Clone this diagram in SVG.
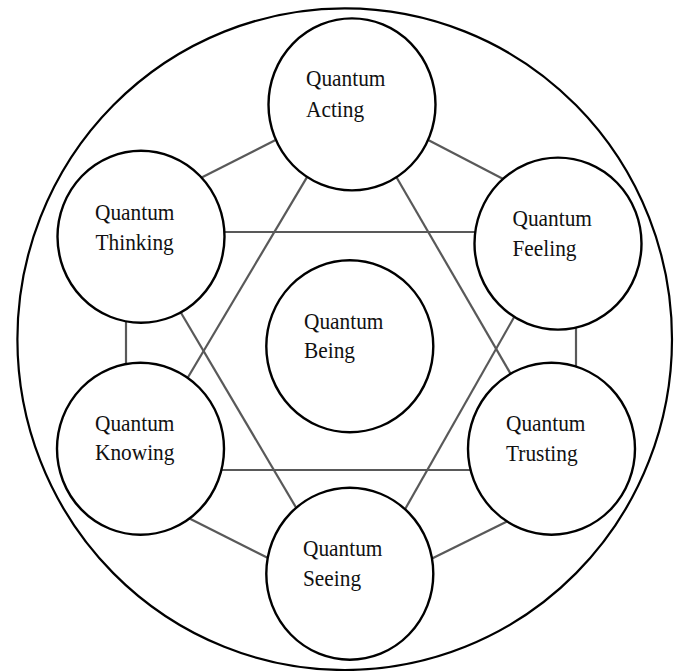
<svg xmlns="http://www.w3.org/2000/svg" width="684" height="671" viewBox="0 0 684 671">
<style>
.node{fill:#fff;stroke:#000;stroke-width:2.4}
.edge{stroke:#595959;stroke-width:2.2;fill:none}
.lbl{font-family:"Liberation Serif","Times New Roman",serif;font-size:24px;fill:#111}
</style>
<rect width="684" height="671" fill="#fff"/>
<ellipse id="outer" cx="344.7" cy="339.2" rx="327.3" ry="330.8" fill="none" stroke="#000" stroke-width="2.2"/>
<g id="connectors">
<line class="edge" x1="280" y1="137.7" x2="199.2" y2="178.8"/>
<line class="edge" x1="425.3" y1="138.6" x2="506.1" y2="180.5"/>
<line class="edge" x1="126" y1="316" x2="126" y2="370"/>
<line class="edge" x1="576" y1="322" x2="576" y2="372"/>
<line class="edge" x1="187.5" y1="517.4" x2="271.5" y2="559.8"/>
<line class="edge" x1="510.5" y1="519.8" x2="428.5" y2="560.2"/>
<line class="edge" x1="215" y1="470" x2="476" y2="470"/>
<line class="edge" x1="219" y1="232" x2="480" y2="232"/>
<line class="edge" x1="308.5" y1="174.6" x2="186.2" y2="380.2"/>
<line class="edge" x1="394" y1="173" x2="513" y2="377.9"/>
<line class="edge" x1="178" y1="307.8" x2="298.8" y2="512.2"/>
<line class="edge" x1="515.6" y1="314.5" x2="402.8" y2="513.2"/>
</g>
<g id="acting">
<ellipse class="node" cx="352" cy="104.4" rx="83.5" ry="86"/>
<text class="lbl" transform="translate(306 86) scale(0.89 1)">Quantum</text>
<text class="lbl" transform="translate(306 116.5) scale(0.89 1)">Acting</text>
</g>
<g id="thinking">
<ellipse class="node" cx="141" cy="236.8" rx="83.5" ry="86"/>
<text class="lbl" transform="translate(95 220) scale(0.89 1)">Quantum</text>
<text class="lbl" transform="translate(95.5 249.5) scale(0.89 1)">Thinking</text>
</g>
<g id="feeling">
<ellipse class="node" cx="558" cy="243.6" rx="83.5" ry="86"/>
<text class="lbl" transform="translate(512.5 225.7) scale(0.89 1)">Quantum</text>
<text class="lbl" transform="translate(512.5 255.7) scale(0.89 1)">Feeling</text>
</g>
<g id="being">
<ellipse class="node" cx="349.8" cy="346.3" rx="83.5" ry="86"/>
<text class="lbl" transform="translate(304 329.3) scale(0.89 1)">Quantum</text>
<text class="lbl" transform="translate(304 358.3) scale(0.89 1)">Being</text>
</g>
<g id="knowing">
<ellipse class="node" cx="140.5" cy="448.8" rx="83.5" ry="86"/>
<text class="lbl" transform="translate(95 431) scale(0.89 1)">Quantum</text>
<text class="lbl" transform="translate(95 460) scale(0.89 1)">Knowing</text>
</g>
<g id="trusting">
<ellipse class="node" cx="551.5" cy="448.7" rx="83.5" ry="86"/>
<text class="lbl" transform="translate(506 431) scale(0.89 1)">Quantum</text>
<text class="lbl" transform="translate(506 461) scale(0.89 1)">Trusting</text>
</g>
<g id="seeing">
<ellipse class="node" cx="349.8" cy="573.7" rx="83.5" ry="86"/>
<text class="lbl" transform="translate(303 556) scale(0.89 1)">Quantum</text>
<text class="lbl" transform="translate(303 586) scale(0.89 1)">Seeing</text>
</g>
</svg>
